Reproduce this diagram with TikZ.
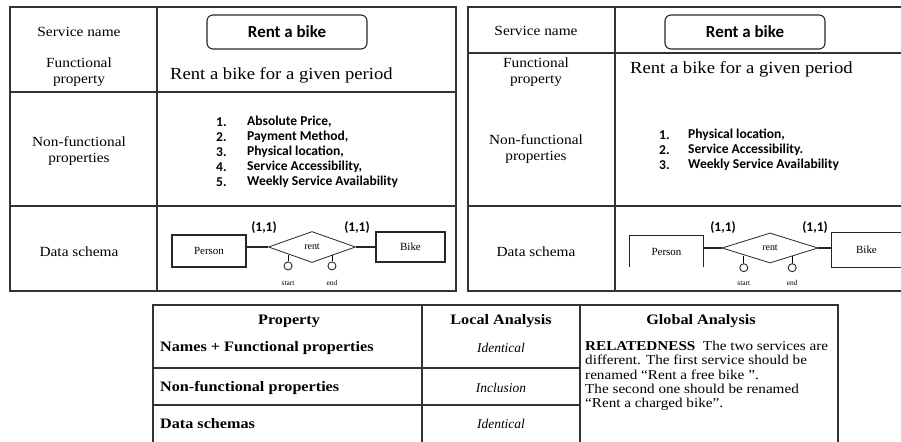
\documentclass[tikz,border=0pt]{standalone}
\usepackage{fontspec}
\setmainfont{Liberation Serif}
\newfontfamily\calfont{Carlito}
\newfontfamily\lblfont[FakeStretch=1.1]{Liberation Serif}
\newfontfamily\tabfont[FakeStretch=1.12]{Liberation Serif}
\usetikzlibrary{shapes.geometric,calc}
\begin{document}
\begin{tikzpicture}[x=1bp,y=-1bp,
  grid/.style={line width=1.3bp, draw=black!80},
  lbl/.style={font=\lblfont\fontsize{14}{16}\selectfont, align=center, inner sep=0pt},
  funtext/.style={font=\lblfont\fontsize{17}{20}\selectfont, anchor=west, inner sep=0pt},
  namebox/.style={draw=black!85, line width=1.1bp, rounded corners=6bp, minimum width=160bp, minimum height=34bp, font=\calfont\fontsize{17}{20}\selectfont\bfseries, inner sep=0pt},
  item/.style={font=\calfont\fontsize{13.6}{15}\selectfont\bfseries, anchor=west, inner sep=0pt},
  ent/.style={draw=black!85, line width=1.1bp, font=\fontsize{11}{13}\selectfont, inner sep=0pt},
  rel/.style={draw=black!85, line width=0.8bp, shape=diamond, inner sep=0pt, font=\fontsize{10}{12}\selectfont},
  link/.style={line width=1.4bp, draw=black!85},
  card/.style={font=\calfont\fontsize{13.5}{15}\selectfont\bfseries, inner sep=0pt},
  attr/.style={draw=black!85, line width=0.9bp, circle, minimum size=8bp, inner sep=0pt},
  attrlbl/.style={font=\fontsize{7.5}{9}\selectfont, inner sep=0pt},
  hdr/.style={font=\tabfont\fontsize{14.5}{17}\selectfont\bfseries, inner sep=0pt},
  rowlbl/.style={font=\tabfont\fontsize{14.5}{17}\selectfont\bfseries, anchor=west, inner sep=0pt},
  loc/.style={font=\fontsize{13.5}{17}\selectfont\itshape, inner sep=0pt},
  glob/.style={font=\tabfont\fontsize{13.6}{14.4}\selectfont, anchor=north west, align=left, inner sep=0pt}
]
\useasboundingbox (0,0) rectangle (901,442);

% ---------- left table ----------
\draw[grid] (10,7) rectangle (456,291);
\draw[grid] (157,7) -- (157,291);
\draw[grid] (10,92) -- (456,92);
\draw[grid] (10,206) -- (456,206);

\node[lbl] (sn1) at (79,32) {Service name};
\node[namebox] (nb1) at (287,32) {Rent a bike};
\node[lbl] (fp1) at (79,72) {Functional\\property};
\node[funtext] (ft1) at (170,75) {Rent a bike for a given period};
\node[lbl] (nf1) at (79,151) {Non-functional\\properties};
\foreach \i/\t [count=\k] in {1/{Absolute Price,},2/{Payment Method,},3/{Physical location,},4/{Service Accessibility,},5/{Weekly Service Availability}} {
  \node[item] (n1\k) at (216,{107+15*\k}) {\i.};
  \node[item] (t1\k) at (247,{107+15*\k}) {\t};
}
\node[lbl] (ds1) at (79,252) {Data schema};

\node[ent, minimum width=74bp, minimum height=32bp] (p1) at (209,251) {Person};
\node[rel, minimum width=87bp, minimum height=31bp] (r1) at (312,247) {rent};
\node[ent, minimum width=69bp, minimum height=30bp] (b1) at (410.5,247) {Bike};
\draw[link] (r1.west -| p1.east) -- (r1.west);
\draw[link] (r1.east) -- (b1.west);
\node[card] (c11) at (264,228) {(1,1)};
\node[card] (c12) at (357,228) {(1,1)};
\node[attr] (a11) at ($(r1.south west)+(-2,11)$) {};
\node[attr] (a12) at ($(r1.south east)+(-2,11)$) {};
\draw[line width=0.9bp] (r1.south west -| a11.north) -- (a11.north);
\draw[line width=0.9bp] (r1.south east -| a12.north) -- (a12.north);
\node[attrlbl] (s11) at (a11 |- 0,283) {start};
\node[attrlbl] (s12) at (a12 |- 0,283) {end};

% ---------- right table ----------
\draw[grid] (901,7) -- (468,7) -- (468,291) -- (901,291);
\draw[grid] (615,7) -- (615,291);
\draw[grid] (468,53) -- (901,53);
\draw[grid] (468,206) -- (901,206);

\node[lbl] (sn2) at (536,31) {Service name};
\node[namebox] (nb2) at (745,32) {Rent a bike};
\node[lbl] (fp2) at (536,72) {Functional\\property};
\node[funtext] (ft2) at (630,69) {Rent a bike for a given period};
\node[lbl] (nf2) at (536,149) {Non-functional\\properties};
\foreach \i/\t [count=\k] in {1/{Physical location,},2/{Service Accessibility.},3/{Weekly Service Availability}} {
  \node[item] (n2\k) at (659,{120+15*\k}) {\i.};
  \node[item] (t2\k) at (688,{120+15*\k}) {\t};
}
\node[lbl] (ds2) at (536,252) {Data schema};

\node[minimum width=73bp, minimum height=31bp, font=\fontsize{11}{13}\selectfont, inner sep=0pt] (p2) at (666.5,251.5) {Person};
\draw[line width=1.1bp, black!85] (p2.south west) -- (p2.north west) -- (p2.north east) -- (p2.south east);
\node[rel, minimum width=96bp, minimum height=30bp] (r2) at (770,248) {rent};
\node[minimum width=69bp, minimum height=34bp, font=\fontsize{11}{13}\selectfont, inner sep=0pt] (b2) at (866.5,250) {Bike};
\draw[line width=1.1bp, black!85] (b2.north east) -- (b2.north west) -- (b2.south west) -- (b2.south east);
\draw[link] (r2.west -| p2.east) -- (r2.west);
\draw[link] (r2.east) -- (r2.east -| b2.west);
\node[card] (c21) at (723,228) {(1,1)};
\node[card] (c22) at (815,228) {(1,1)};
\node[attr] (a21) at ($(r2.south west)+(-2,12)$) {};
\node[attr] (a22) at ($(r2.south east)+(-2,12)$) {};
\draw[line width=0.9bp] (r2.south west -| a21.north) -- (a21.north);
\draw[line width=0.9bp] (r2.south east -| a22.north) -- (a22.north);
\node[attrlbl] (s21) at (a21 |- 0,283) {start};
\node[attrlbl] (s22) at (a22 |- 0,283) {end};

% ---------- bottom table ----------
\draw[grid] (153,442) -- (153,305) -- (838,305) -- (838,442);
\draw[grid] (422,305) -- (422,442);
\draw[grid] (580,305) -- (580,442);
\draw[grid] (153,368) -- (580,368);
\draw[grid] (153,405) -- (580,405);

\node[hdr] (h1) at (289,321) {Property};
\node[hdr] (h2) at (501,321) {Local Analysis};
\node[hdr] (h3) at (701,321) {Global Analysis};
\node[rowlbl] (l1) at (160,348) {Names + Functional properties};
\node[rowlbl] (l2) at (160,388) {Non-functional properties};
\node[rowlbl] (l3) at (160,424) {Data schemas};
\node[loc] (v1) at (501,348) {Identical};
\node[loc] (v2) at (501,388) {Inclusion};
\node[loc] (v3) at (501,424) {Identical};
\node[glob] (g1) at (585,341) {\textbf{RELATEDNESS}\ \ The two services are\\different. The first service should be\\renamed “Rent a free bike ”.\\The second one should be renamed\\“Rent a charged bike”.};
\end{tikzpicture}
\end{document}
